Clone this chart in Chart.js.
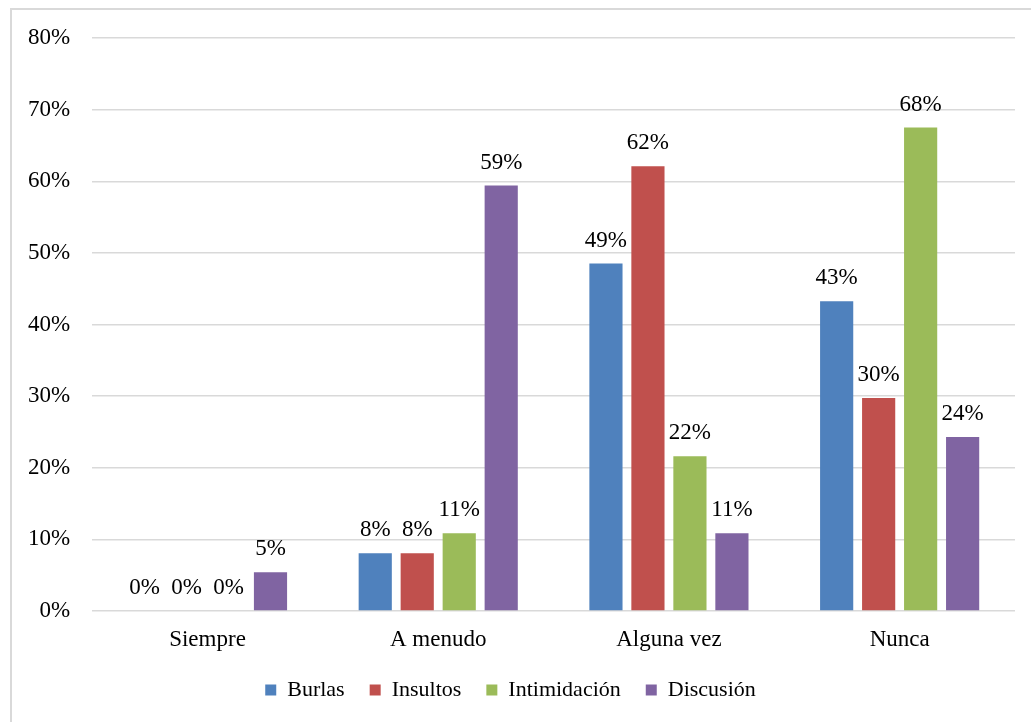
<!DOCTYPE html>
<html>
<head>
<meta charset="utf-8">
<script src="https://cdn.jsdelivr.net/npm/chart.js@4"></script>
<style>
  html, body { margin: 0; padding: 0; background: #fff; overflow: hidden; }
  #frame { position: absolute; left: 10px; top: 8px; width: 1030px; height: 720px; border: 2px solid #d9d9d9; background: #fff; z-index: 0; }
  #c { position: absolute; left: 0; top: 0; z-index: 1; display: block; }
</style>
</head>
<body>
<div id="frame"></div>
<canvas id="c" width="1031" height="722"></canvas>
<script>
const categories = ['Siempre', 'A menudo', 'Alguna vez', 'Nunca'];
const seriesNames = ['Burlas', 'Insultos', 'Intimidación', 'Discusión'];
const burlas = [0, 8.05, 48.5, 43.25];
const insultos = [0, 8.05, 62.1, 29.75];
const intimidacion = [0, 10.85, 21.6, 67.5];
const discusion = [5.4, 59.4, 10.85, 24.3];
const colors = ['#4F81BD', '#C0504D', '#9BBB59', '#8064A2'];
const yTicks = [0, 10, 20, 30, 40, 50, 60, 70, 80];

const FONT = "'Liberation Serif', 'Times New Roman', serif";
Chart.defaults.font.family = FONT;
Chart.defaults.font.size = 23;
Chart.defaults.color = '#000';

const valueLabels = {
  id: 'valueLabels',
  afterDatasetsDraw(chart) {
    const ctx = chart.ctx;
    ctx.save();
    ctx.font = '23px ' + FONT;
    ctx.fillStyle = '#000';
    ctx.textAlign = 'center';
    ctx.textBaseline = 'alphabetic';
    chart.data.datasets.forEach((ds, di) => {
      const meta = chart.getDatasetMeta(di);
      meta.data.forEach((bar, i) => {
        ctx.fillText(Math.round(ds.data[i]) + '%', bar.x, bar.y - 17);
      });
    });
    ctx.restore();
  }
};

const allSeries = [burlas, insultos, intimidacion, discusion];
new Chart(document.getElementById('c'), {
  type: 'bar',
  data: {
    labels: categories,
    datasets: allSeries.map((d, i) => ({
      label: seriesNames[i],
      data: d,
      backgroundColor: colors[i],
      borderWidth: 0,
      categoryPercentage: 0.728,
      barPercentage: 0.79
    }))
  },
  options: {
    responsive: false,
    animation: false,
    layout: { padding: { left: 6, right: 16, top: 38, bottom: 11 } },
    plugins: {
      legend: {
        position: 'bottom',
        labels: { boxWidth: 11, boxHeight: 11, padding: 25, font: { size: 22, family: FONT }, color: '#000' }
      },
      tooltip: { enabled: false }
    },
    scales: {
      x: {
        grid: { display: false, drawTicks: false },
        border: { display: false },
        ticks: { padding: 15, font: { size: 23, family: FONT }, color: '#000' },
        afterFit(scale) { scale.height = 43; }
      },
      y: {
        min: 0, max: 80,
        afterBuildTicks(scale) { scale.ticks = yTicks.map(v => ({ value: v })); },
        grid: { color: '#d9d9d9', lineWidth: 1.5, drawTicks: false },
        border: { display: false },
        ticks: { padding: 22, font: { size: 23, family: FONT }, color: '#000', callback: v => v + '%' }
      }
    }
  },
  plugins: [valueLabels]
});
</script>
</body>
</html>
